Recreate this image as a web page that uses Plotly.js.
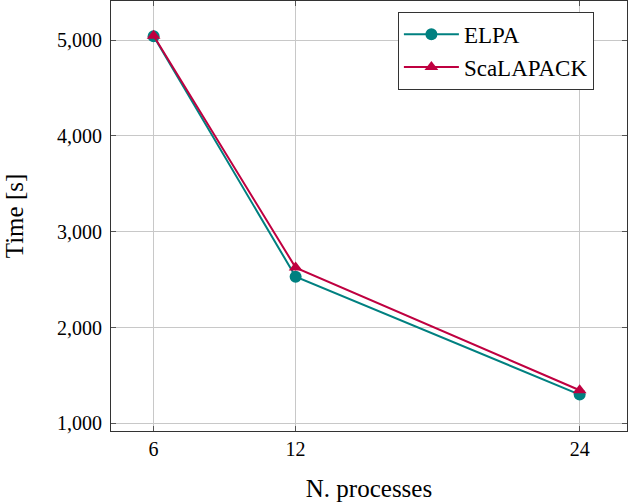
<!DOCTYPE html>
<html><head><meta charset="utf-8">
<script src="https://cdn.plot.ly/plotly-3.0.1.min.js"></script>
<style>html,body{margin:0;padding:0;background:#fff}#c{width:629px;height:504px}</style>
</head><body><div id="c"></div>
<script>
const processes = [6, 12, 24];
const elpa = [5040, 2530, 1300];
const scalapack = [5045, 2625, 1345];
const xTicks = [6, 12, 24];
const yTicks = [1000, 2000, 3000, 4000, 5000];

const fam = "Liberation Serif";
const font = {family: fam, size: 20, color: '#000'};
const traces = [
  {x: processes, y: elpa, name: 'ELPA', mode: 'lines+markers', type: 'scatter',
   line: {color: '#008080', width: 2}, marker: {symbol: 'circle', size: 12, color: '#008080'}},
  {x: processes, y: scalapack, name: 'ScaLAPACK', mode: 'lines+markers', type: 'scatter',
   line: {color: '#BF0040', width: 2}, marker: {symbol: 'triangle-up', size: 12, color: '#BF0040'}}
];
const layout = {
  width: 629, height: 504,
  margin: {l: 111, r: 2, t: 1, b: 73},
  paper_bgcolor: '#fff', plot_bgcolor: '#fff',
  font: font,
  showlegend: true,
  legend: {x: 0.556, y: 0.975, xanchor: 'left', yanchor: 'top', bordercolor: '#333', borderwidth: 1,
           bgcolor: '#fff', font: {family: fam, size: 23, color: '#000'}, itemwidth: 55, tracegroupgap: 0},
  xaxis: {range: [4.2, 26], tickvals: xTicks, ticktext: xTicks.map(String), ticks: 'inside', ticklen: 5,
          tickcolor: '#555', mirror: 'allticks', showline: true, linecolor: '#333', linewidth: 1,
          showgrid: true, gridcolor: '#c8c8c8', gridwidth: 1, zeroline: false, tickfont: {size: 20},
          title: {text: 'N. processes', font: {family: fam, size: 25}, standoff: 20}},
  yaxis: {range: [920, 5407], tickvals: yTicks, tickformat: ',', ticks: 'inside', ticklen: 5,
          tickcolor: '#555', mirror: 'allticks', showline: true, linecolor: '#333', linewidth: 1,
          showgrid: true, gridcolor: '#c8c8c8', gridwidth: 1, zeroline: false, tickfont: {size: 20},
          ticklabelstandoff: 4,
          title: {text: 'Time [s]', font: {family: fam, size: 25}, standoff: 26}}
};
Plotly.newPlot('c', traces, layout, {displayModeBar: false, staticPlot: true});
</script></body></html>
